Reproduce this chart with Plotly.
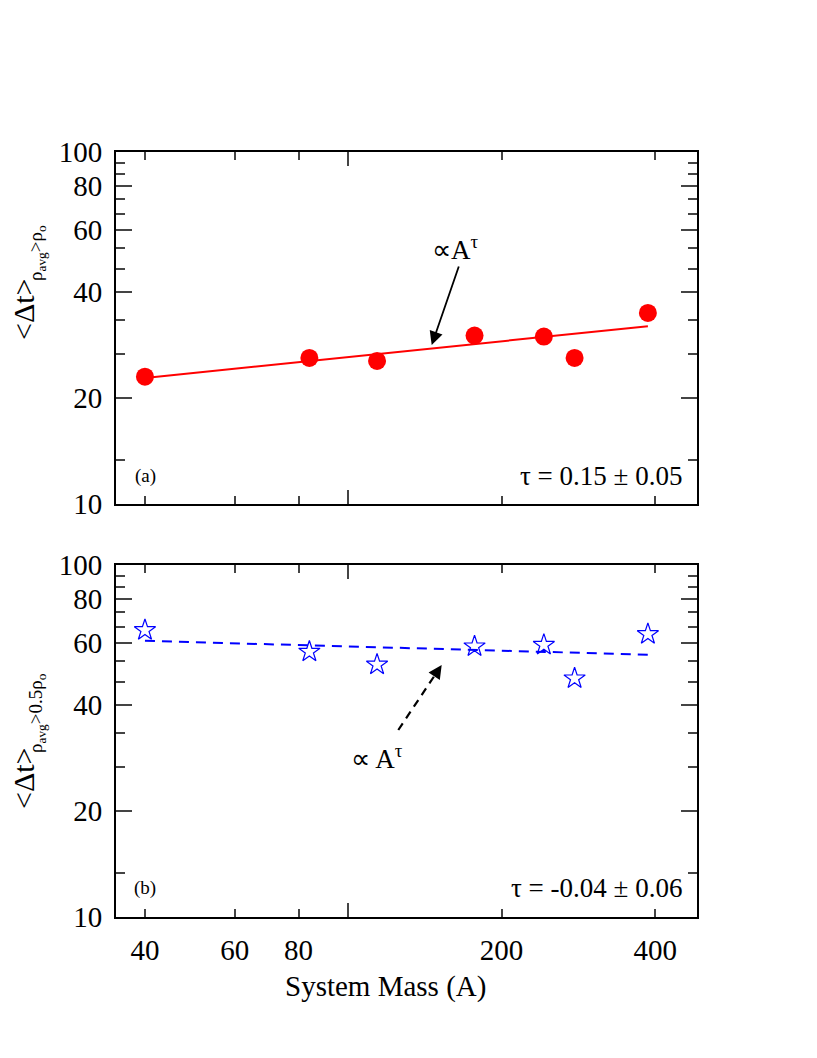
import numpy as np
import plotly.graph_objects as go
from plotly.subplots import make_subplots

# system masses (A) and mean time intervals
mass = [40, 84, 114, 177, 242, 278, 387]
dt_rho_o = [23.0, 26.0, 25.5, 30.1, 29.9, 26.0, 34.9]
dt_half_rho_o = [65.3, 56.7, 52.1, 58.7, 59.3, 47.6, 63.6]

# power-law fit lines (end points)
fit_x = [40, 387]
fit_a = [22.8, 32.0]
fit_b = [60.9, 55.6]

xtick_vals = [40, 60, 80, 100, 200, 400]
xtick_text = ["40", "60", "80", "", "200", "400"]
ytick_vals = [10, 20, 40, 60, 80, 100]
ytick_minor = [13.33, 26.67, 33.33, 46.67, 53.33, 66.67, 73.33, 86.67, 93.33]

FONT = "Liberation Serif"
lg = np.log10

# page has an 8px body margin; plot area sits at x 116..697, y 152..917
W, H = 801, 1042
ML, MT = 108, 144
PW, PH = 581, 765
MR, MB = W - ML - PW, H - MT - PH


def px(x):
    return (x - 116) / PW


def py(y):
    return (917 - y) / PH


fig = make_subplots(rows=2, cols=1, vertical_spacing=61 / PH)

fig.add_trace(go.Scatter(x=fit_x, y=fit_a, mode="lines",
                         line=dict(color="#ff0000", width=2)), row=1, col=1)
fig.add_trace(go.Scatter(x=mass, y=dt_rho_o, mode="markers",
                         marker=dict(color="#ff0000", size=18, symbol="circle")),
              row=1, col=1)
fig.add_trace(go.Scatter(x=fit_x, y=fit_b, mode="lines",
                         line=dict(color="#0000ff", width=2, dash="10px,7px")),
              row=2, col=1)
fig.add_trace(go.Scatter(x=mass, y=dt_half_rho_o, mode="markers",
                         marker=dict(color="#0000ff", size=16, symbol="star-open",
                                     line=dict(width=1.2, color="#0000ff"))),
              row=2, col=1)

xax = dict(type="log", range=[lg(35.1), lg(483)], tickmode="array",
           tickvals=xtick_vals, ticktext=xtick_text, ticks="inside", ticklen=8,
           tickwidth=2, showline=True, linewidth=2, linecolor="black",
           mirror="ticks", showgrid=False, zeroline=False,
           minor=dict(tickmode="array", tickvals=[100], ticklen=14, tickwidth=2,
                      ticks="inside", showgrid=False),
           ticklabelstandoff=6,
           tickfont=dict(family=FONT, size=29, color="black"))
yax = dict(type="log", range=[1, 2], tickmode="array", tickvals=ytick_vals,
           ticks="inside", ticklen=16, tickwidth=2, showline=True, linewidth=2,
           linecolor="black", mirror="ticks", showgrid=False, zeroline=False,
           minor=dict(tickmode="array", tickvals=ytick_minor, ticklen=9,
                      tickwidth=2, ticks="inside", showgrid=False),
           ticklabelstandoff=6,
           tickfont=dict(family=FONT, size=29, color="black"))

fig.update_xaxes(**xax)
fig.update_xaxes(showticklabels=False, row=1, col=1)
fig.update_yaxes(**yax)

big = dict(family=FONT, size=27, color="black")
small = dict(family=FONT, size=19, color="black")


def text(x, y, s, font, xanchor="center", **kw):
    return dict(x=px(x), y=py(y), xref="paper", yref="paper", text=s,
                showarrow=False, font=font, xanchor=xanchor, yanchor="middle", **kw)


ann = [
    text(145, 476, "(a)", small),
    text(145, 888, "(b)", small),
    text(684, 476, "τ = 0.15 ± 0.05", big, xanchor="right"),
    text(684, 888, "τ = -0.04 ± 0.06", big, xanchor="right"),
    text(455, 248, "∝A<sup>τ</sup>", big),
    text(377, 757, "∝ A<sup>τ</sup>", big),
    text(385, 987, "System Mass (A)", dict(family=FONT, size=29, color="black")),
    # y titles
    text(23, 310, "&lt;Δt&gt;", dict(family=FONT, size=30, color="black"), textangle=-90),
    text(37, 253, "ρ<sub>avg</sub>&gt;ρ<sub>o</sub>", small, textangle=-90),
    text(23, 779, "&lt;Δt&gt;", dict(family=FONT, size=30, color="black"), textangle=-90),
    text(37, 713, "ρ<sub>avg</sub>&gt;0.5ρ<sub>o</sub>", small, textangle=-90),
    # arrows
    dict(x=px(431.7), y=py(345), xref="paper", yref="paper", ax=27.6, ay=-80,
         axref="pixel", ayref="pixel", showarrow=True, arrowhead=2,
         arrowsize=1.5, arrowwidth=1.8, arrowcolor="black", text=""),
    dict(x=px(441.7), y=py(665), xref="paper", yref="paper", ax=-6, ay=9,
         axref="pixel", ayref="pixel", showarrow=True, arrowhead=2,
         arrowsize=1.5, arrowwidth=1.8, arrowcolor="black", text=""),
]

fig.update_layout(
    width=W, height=H, margin=dict(l=ML, r=MR, t=MT, b=MB),
    paper_bgcolor="white", plot_bgcolor="white", showlegend=False,
    annotations=ann,
    shapes=[dict(type="line", xref="paper", yref="paper",
                 x0=px(398.3), y0=py(730), x1=px(437), y1=py(672),
                 line=dict(color="black", width=2.2, dash="8px,6px"))],
)

fig.write_html("out.html")
